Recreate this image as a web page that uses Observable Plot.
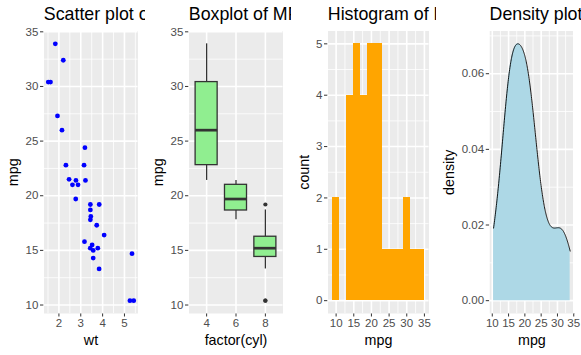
<!DOCTYPE html>
<html><head><meta charset="utf-8">
<script src="https://cdn.jsdelivr.net/npm/d3@7"></script>
<script src="https://cdn.jsdelivr.net/npm/@observablehq/plot@0.6"></script>
<style>
html,body{margin:0;padding:0;background:#fff;}
#root{position:relative;width:581px;height:355px;overflow:hidden;background:#fff;}
.panel{position:absolute;top:0;height:355px;overflow:hidden;background:#fff;}
.panel svg{display:block;}
.panel svg [aria-label^="x-axis"] text, .panel svg [aria-label^="y-axis"] text{fill:#4D4D4D;}
</style></head><body><div id="root"></div>
<script>
// mtcars data
const carWt = [2.620, 2.875, 2.320, 3.215, 3.440, 3.460, 3.570, 3.190, 3.150, 3.440, 3.440, 4.070, 3.730, 3.780, 5.250, 5.424, 5.345, 2.200, 1.615, 1.835, 2.465, 3.520, 3.435, 3.840, 3.845, 1.935, 2.140, 1.513, 3.170, 2.770, 3.570, 2.780];
const carMpg = [21.0, 21.0, 22.8, 21.4, 18.7, 18.1, 14.3, 24.4, 22.8, 19.2, 17.8, 16.4, 17.3, 15.2, 10.4, 10.4, 14.7, 32.4, 30.4, 33.9, 21.5, 15.5, 15.2, 13.3, 19.2, 27.3, 26.0, 30.4, 15.8, 19.7, 15.0, 21.4];
const carCyl = [6, 6, 4, 6, 8, 6, 8, 4, 4, 6, 6, 8, 8, 8, 8, 8, 8, 4, 4, 4, 4, 8, 8, 8, 8, 4, 4, 4, 8, 6, 8, 4];
const cylLevels = [4, 6, 8];
// histogram (binwidth 2, right-closed bins)
const histBinStart = [9, 11, 13, 15, 17, 19, 21, 23, 25, 27, 29, 31, 33];
const histCount = [2, 0, 4, 5, 4, 5, 5, 1, 1, 1, 2, 1, 1];
// titles / labels
const panelTitles = ["Scatter plot of MPG vs Weight", "Boxplot of MPG by Cylinders", "Histogram of MPG", "Density plot of MPG"];
const xLabels = ["wt", "factor(cyl)", "mpg", "mpg"];
const yLabels = ["mpg", "mpg", "count", "density"];
// ticks
const mpgTicks = [10, 15, 20, 25, 30, 35];
const mpgMinor = [12.5, 17.5, 22.5, 27.5, 32.5];
const wtTicks = [2, 3, 4, 5];
const wtMinor = [1.5, 2.5, 3.5, 4.5, 5.5];
const countTicks = [0, 1, 2, 3, 4, 5];
const countMinor = [0.5, 1.5, 2.5, 3.5, 4.5];
const densTicks = [0, 0.02, 0.04, 0.06];
const densMinor = [0.01, 0.03, 0.05, 0.07];

const FONT = "'Liberation Sans', Arial, Helvetica, sans-serif";
const PW = 581 / 4, H = 355, MT = 30.5, MB = 42;

function expand(lo, hi) { const e = (hi - lo) * 0.05; return [lo - e, hi + e]; }

function background(xMajor, xMinor, yMajor, yMinor) {
  return [
    Plot.frame({fill: "#EBEBEB", stroke: "none"}),
    Plot.ruleX(xMinor, {stroke: "white", strokeWidth: 0.8}),
    Plot.ruleY(yMinor, {stroke: "white", strokeWidth: 0.8}),
    Plot.ruleX(xMajor, {stroke: "white", strokeWidth: 1.6}),
    Plot.ruleY(yMajor, {stroke: "white", strokeWidth: 1.6})
  ];
}
function texts(i, ml) {
  return [
    Plot.text([panelTitles[i]], {text: d => d, frameAnchor: "top-left", textAnchor: "start", lineAnchor: "bottom", dy: 19.3 - MT, dx: -0.2, fontSize: 17.8, fill: "black"}),
    Plot.text([xLabels[i]], {text: d => d, frameAnchor: "bottom", textAnchor: "middle", lineAnchor: "bottom", dy: 31.5, fontSize: 14.3, fill: "black"}),
    Plot.text([yLabels[i]], {text: d => d, frameAnchor: "left", textAnchor: "middle", lineAnchor: "bottom", rotate: -90, dx: 17.5 - ml, fontSize: 14.3, fill: "black"})
  ];
}
function mount(i, svg) {
  const div = document.createElement("div");
  div.className = "panel";
  div.style.left = (i * PW) + "px";
  div.style.width = PW + "px";
  div.appendChild(svg);
  document.getElementById("root").appendChild(div);
}
const common = (ml) => ({
  width: PW, height: H, marginTop: MT, marginBottom: MB, marginLeft: ml, marginRight: 7.75,
  style: {fontSize: "11.5px", fontFamily: FONT, color: "#333333", background: "transparent"}
});
const axisOpts = {tickSize: 3.5, tickPadding: 2.2, label: null};
const mpgDomain = expand(d3.min(carMpg), d3.max(carMpg));

// Panel 1: scatter
{
  const ml = 43.5;
  mount(0, Plot.plot({
    ...common(ml),
    x: {domain: expand(d3.min(carWt), d3.max(carWt)), ticks: wtTicks, tickFormat: d3.format("d"), ...axisOpts},
    y: {domain: mpgDomain, ticks: mpgTicks, tickFormat: d3.format("d"), ...axisOpts},
    marks: [
      ...background(wtTicks, wtMinor, mpgTicks, mpgMinor),
      Plot.dot(carWt.map((w, k) => ({wt: w, mpg: carMpg[k]})), {x: "wt", y: "mpg", r: 2.4, fill: "blue", stroke: "none"}),
      ...texts(0, ml)
    ]
  }));
}

// Panel 2: boxplot
{
  const ml = 43.5;
  const boxStats = cylLevels.map(c => {
    const v = carMpg.filter((_, k) => carCyl[k] === c).sort(d3.ascending);
    const q1 = d3.quantile(v, 0.25), med = d3.quantile(v, 0.5), q3 = d3.quantile(v, 0.75);
    const iqr = q3 - q1;
    const lo = d3.min(v.filter(x => x >= q1 - 1.5 * iqr));
    const hi = d3.max(v.filter(x => x <= q3 + 1.5 * iqr));
    return {cyl: c, q1, med, q3, lo, hi, out: v.filter(x => x < lo || x > hi)};
  });
  const outliers = boxStats.flatMap(s => s.out.map(o => ({cyl: s.cyl, mpg: o})));
  const half = 0.75; // 0.375 category steps (2 cyl units per step)
  mount(1, Plot.plot({
    ...common(ml),
    x: {domain: [cylLevels[0] - 1.2, cylLevels[2] + 1.2], ticks: cylLevels, tickFormat: d3.format("d"), ...axisOpts},
    y: {domain: mpgDomain, ticks: mpgTicks, tickFormat: d3.format("d"), ...axisOpts},
    marks: [
      ...background(cylLevels, [], mpgTicks, mpgMinor),
      Plot.ruleX(boxStats, {x: "cyl", y1: "lo", y2: "q1", stroke: "#333333", strokeWidth: 1.3}),
      Plot.ruleX(boxStats, {x: "cyl", y1: "q3", y2: "hi", stroke: "#333333", strokeWidth: 1.3}),
      Plot.rect(boxStats, {x1: d => d.cyl - half, x2: d => d.cyl + half, y1: "q1", y2: "q3", fill: "#90EE90", stroke: "#333333", strokeWidth: 1.3}),
      Plot.ruleY(boxStats, {y: "med", x1: d => d.cyl - half, x2: d => d.cyl + half, stroke: "#333333", strokeWidth: 2.7}),
      Plot.dot(outliers, {x: "cyl", y: "mpg", r: 2.1, fill: "#333333", stroke: "none"}),
      ...texts(1, ml)
    ]
  }));
}

// Panel 3: histogram
{
  const ml = 36.5;
  const bins = histBinStart.map((s, k) => ({x1: s, x2: s + 2, count: histCount[k]}));
  mount(2, Plot.plot({
    ...common(ml),
    x: {domain: expand(histBinStart[0], histBinStart[histBinStart.length - 1] + 2), ticks: mpgTicks, tickFormat: d3.format("d"), ...axisOpts},
    y: {domain: expand(0, d3.max(histCount)), ticks: countTicks, tickFormat: d3.format("d"), ...axisOpts},
    marks: [
      ...background(mpgTicks, mpgMinor, countTicks, countMinor),
      Plot.rectY(bins.filter(b => b.count > 0), {x1: "x1", x2: "x2", y: "count", fill: "orange", stroke: "none", inset: 0, shapeRendering: "crispEdges"}),
      ...texts(2, ml)
    ]
  }));
}

// Panel 4: density (gaussian KDE, bw.nrd0, over data range)
{
  const ml = 53.25;
  const sorted = carMpg.slice().sort(d3.ascending);
  const bw = 0.9 * Math.min(d3.deviation(carMpg), (d3.quantile(sorted, 0.75) - d3.quantile(sorted, 0.25)) / 1.34) * Math.pow(carMpg.length, -0.2);
  const lo = d3.min(carMpg), hi = d3.max(carMpg), n = 300;
  const dens = d3.range(n + 1).map(k => {
    const x = lo + (hi - lo) * k / n;
    const y = d3.mean(carMpg, v => Math.exp(-0.5 * ((x - v) / bw) ** 2) / (bw * Math.sqrt(2 * Math.PI)));
    return {x, y};
  });
  const ymax = d3.max(dens, d => d.y);
  mount(3, Plot.plot({
    ...common(ml),
    x: {domain: expand(lo, hi), ticks: mpgTicks, tickFormat: d3.format("d"), ...axisOpts},
    y: {domain: expand(0, ymax), ticks: densTicks, tickFormat: d3.format(".2f"), ...axisOpts},
    marks: [
      ...background(mpgTicks, mpgMinor, densTicks, densMinor.filter(v => v < ymax * 1.05)),
      Plot.areaY(dens, {x: "x", y: "y", fill: "#ADD8E6"}),
      Plot.lineY(dens, {x: "x", y: "y", stroke: "black", strokeWidth: 0.9}),
      ...texts(3, ml)
    ]
  }));
}
</script>
</body></html>
